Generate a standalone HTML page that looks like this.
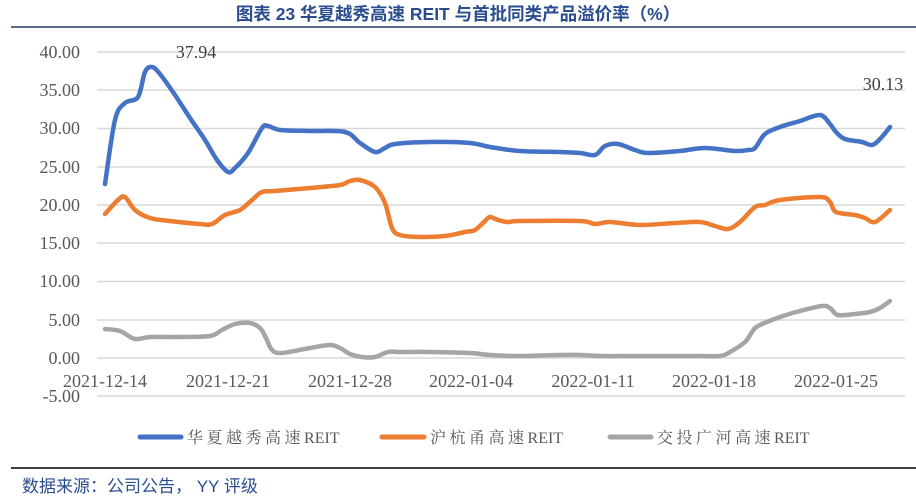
<!DOCTYPE html><html><head><meta charset="utf-8"><style>body{margin:0;background:#fff}svg{display:block}</style></head><body>
<svg id="s" width="916" height="500" xmlns="http://www.w3.org/2000/svg" font-family="Liberation Serif, Noto Serif CJK SC, serif">
<text x="458" y="20" text-anchor="middle" font-family="Liberation Sans, Noto Sans CJK SC, sans-serif" font-weight="bold" font-size="17.5" fill="#2a4d8f">图表 23 华夏越秀高速 REIT 与首批同类产品溢价率（%）</text>
<line x1="11" y1="27" x2="916" y2="27" stroke="#1f3864" stroke-width="1.5"/>
<g stroke="#d9d9d9" stroke-width="1.5">
<line x1="97" x2="905" y1="52" y2="52"/><line x1="97" x2="905" y1="90" y2="90"/><line x1="97" x2="905" y1="128.5" y2="128.5"/><line x1="97" x2="905" y1="167" y2="167"/><line x1="97" x2="905" y1="205" y2="205"/><line x1="97" x2="905" y1="243" y2="243"/><line x1="97" x2="905" y1="281.5" y2="281.5"/><line x1="97" x2="905" y1="320" y2="320"/><line x1="97" x2="905" y1="358" y2="358"/><line x1="97" x2="905" y1="396" y2="396"/></g>
<g font-size="18" fill="#595959" text-anchor="end">
<text x="80" y="58">40.00</text><text x="80" y="96">35.00</text><text x="80" y="134">30.00</text><text x="80" y="173">25.00</text><text x="80" y="211">20.00</text><text x="80" y="249">15.00</text><text x="80" y="287">10.00</text><text x="80" y="326">5.00</text><text x="80" y="364">0.00</text><text x="80" y="402">-5.00</text></g>
<g font-size="18" fill="#595959" text-anchor="middle">
<text x="105" y="387">2021-12-14</text><text x="228" y="387">2021-12-21</text><text x="350" y="387">2021-12-28</text><text x="471" y="387">2022-01-04</text><text x="593" y="387">2022-01-11</text><text x="714" y="387">2022-01-18</text><text x="836" y="387">2022-01-25</text></g>
<text x="196" y="58" font-size="18" fill="#404040" text-anchor="middle">37.94</text>
<text x="883" y="90" font-size="18" fill="#404040" text-anchor="middle">30.13</text>
<g stroke-width="5" stroke-linecap="round"><line x1="140" y1="437" x2="181" y2="437" stroke="#4472c4"/><line x1="382" y1="437" x2="424" y2="437" stroke="#ed7d31"/><line x1="610" y1="437" x2="651" y2="437" stroke="#a5a5a5"/></g>
<g font-size="16" fill="#595959"><text x="187" y="443" letter-spacing="3.5">华夏越秀高速<tspan letter-spacing="0">REIT</tspan></text><text x="430" y="443" letter-spacing="3.5">沪杭甬高速<tspan letter-spacing="0">REIT</tspan></text><text x="657" y="443" letter-spacing="3.5">交投广河高速<tspan letter-spacing="0">REIT</tspan></text></g>
<line x1="11" y1="468" x2="916" y2="468" stroke="#000" stroke-width="1.5"/>
<text x="22" y="492" font-family="Liberation Sans, Noto Sans CJK SC, sans-serif" font-size="17" fill="#2a4d8f">数据来源：公司公告， YY 评级</text>
</svg>
<script>
var D={"#4472c4":[[105,184],[115,120],[125,103],[138,97],[145,72],[152,67],[160,74],[175,95],[190,118],[205,140],[217,160],[228,172],[235,168],[248,153],[262,128],[268,126],[280,130],[310,131],[345,132],[360,143],[375,152],[385,148],[395,144],[430,142],[470,143],[490,147],[520,151],[560,152],[580,153],[595,155],[605,146],[618,144],[635,150],[648,153],[680,151],[705,148],[735,151],[748,150],[755,148],[765,134],[780,127],[800,121],[820,115],[830,124],[836,132],[845,139],[862,142],[872,145],[880,139],[890,127]],
"#ed7d31":[[105,214],[118,200],[125,197],[135,210],[150,218],[170,221],[200,224],[212,224],[225,215],[240,210],[252,200],[262,192],[275,191],[310,188],[340,185],[350,181],[360,180],[375,187],[385,203],[392,228],[400,235],[420,237],[445,236],[465,232],[475,230],[485,221],[490,217],[498,220],[508,222],[520,221],[580,221],[595,224],[610,222],[640,225],[675,223],[700,222],[715,226],[728,229],[740,222],[755,207],[765,205],[780,200],[820,197],[830,202],[836,212],[855,215],[865,218],[875,222],[890,210]],
"#a5a5a5":[[105,329],[120,331],[135,339],[150,337],[180,337],[210,336],[222,330],[235,324],[250,323],[260,328],[266,338],[272,350],[282,353],[310,348],[330,345],[340,348],[350,354],[362,357],[375,357],[388,352],[400,352],[430,352],[470,353],[490,355],[520,356],[560,355],[580,355],[600,356],[640,356],[700,356],[720,356],[730,352],[745,342],[752,332],[758,326],[780,317],[800,311],[822,306],[830,308],[838,315],[855,314],[870,312],[880,308],[890,301]]};
var s=document.getElementById("s");
for(var c in D){var p=D[c],d="M"+p[0];for(var i=0;i<p.length-1;i++){var a=p[i-1]||p[i],b=p[i],e=p[i+1],f=p[i+2]||e;d+="C"+(b[0]+(e[0]-a[0])/6)+","+(b[1]+(e[1]-a[1])/6)+" "+(e[0]-(f[0]-b[0])/6)+","+(e[1]-(f[1]-b[1])/6)+" "+e;}
var el=document.createElementNS("http://www.w3.org/2000/svg","path");el.setAttribute("d",d);el.setAttribute("fill","none");el.setAttribute("stroke",c);el.setAttribute("stroke-width","4.5");el.setAttribute("stroke-linejoin","round");el.setAttribute("stroke-linecap","round");s.appendChild(el);}
</script></body></html>
